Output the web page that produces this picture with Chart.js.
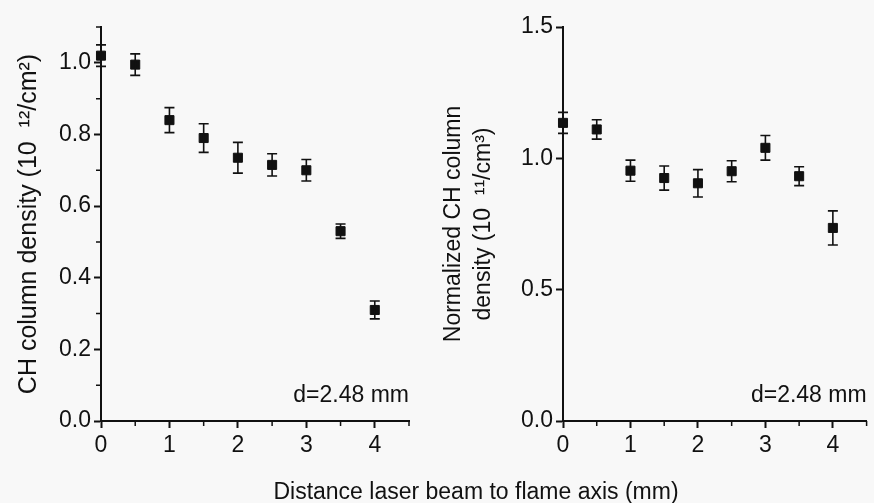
<!DOCTYPE html>
<html>
<head>
<meta charset="utf-8">
<script src="https://cdn.jsdelivr.net/npm/chart.js@4.4.1/dist/chart.umd.min.js"></script>
<style>
html,body{margin:0;padding:0;background:#f8f8f8;}
#wrap{position:relative;width:874px;height:503px;overflow:hidden;}
.box{position:absolute;top:0;width:437px;height:503px;}
#xtitle{position:absolute;left:0;width:952px;top:478px;text-align:center;
font-family:"Liberation Sans",Arial,sans-serif;font-size:23px;color:#111;white-space:nowrap;}
</style>
</head>
<body>
<div id="wrap">
<div class="box" style="left:0"><canvas id="left" width="437" height="503"></canvas></div>
<div class="box" style="left:437px"><canvas id="right" width="437" height="503"></canvas></div>
<div id="xtitle">Distance laser beam to flame axis (mm)</div>
</div>
<script>
// distance from flame axis (mm)
const distances=[0,0.5,1,1.5,2,2.5,3,3.5,4]

// CH column density, 10^12 /cm^2
const chDensity=[1.02,0.995,0.84,0.79,0.735,0.715,0.70,0.53,0.31]
const chDensityErr=[0.03,0.03,0.035,0.04,0.043,0.031,0.03,0.02,0.025]

// normalized CH column density, 10^11 /cm^3
const normDensity=[1.135,1.11,0.953,0.925,0.905,0.951,1.04,0.932,0.735]
const normDensityErr=[0.04,0.037,0.04,0.046,0.052,0.04,0.047,0.036,0.065]

const xMinor=[0.5,1.5,2.5,3.5,4.5]
const leftMinor=[0.1,0.3,0.5,0.7,0.9,1.1]
const noteText="d=2.48 mm"

const FONT="'Liberation Sans', Arial, sans-serif"
const INK="#111"

function points(xs,ys){
return xs.map((x,i)=>({x:x,y:ys[i]}))
}

// vertical error bars with caps
const errorBars={
id:"errorBars",
afterDatasetsDraw(chart){
const ctx=chart.ctx
const xs=chart.scales.x
const ys=chart.scales.y
chart.data.datasets.forEach(ds=>{
if(!ds.errors)return
ctx.save()
ctx.strokeStyle=INK
ctx.lineWidth=1.6
ds.data.forEach((p,i)=>{
const e=ds.errors[i]
const px=xs.getPixelForValue(p.x)
const top=ys.getPixelForValue(p.y+e)
const bot=ys.getPixelForValue(p.y-e)
ctx.beginPath()
ctx.moveTo(px,top);ctx.lineTo(px,bot)
ctx.moveTo(px-5,top);ctx.lineTo(px+5,top)
ctx.moveTo(px-5,bot);ctx.lineTo(px+5,bot)
ctx.stroke()
})
ctx.restore()
})
}
}

// short minor ticks and the corner note
const extras={
id:"extras",
afterDraw(chart,args,opts){
const ctx=chart.ctx
const xs=chart.scales.x
const ys=chart.scales.y
const area=chart.chartArea
ctx.save()
ctx.strokeStyle=INK
ctx.lineWidth=1.5
ctx.beginPath()
;(opts.xMinor||[]).forEach(v=>{
const px=xs.getPixelForValue(v)
ctx.moveTo(px,area.bottom);ctx.lineTo(px,area.bottom+5)
})
;(opts.yMinor||[]).forEach(v=>{
const py=ys.getPixelForValue(v)
ctx.moveTo(area.left,py);ctx.lineTo(area.left-5,py)
})
ctx.stroke()
if(opts.note){
ctx.fillStyle=INK
ctx.font="23px "+FONT
ctx.textAlign="right"
ctx.textBaseline="alphabetic"
ctx.fillText(opts.note,area.right,area.bottom-19)
}
ctx.restore()
}
}

function makeChart(id,values,errs,yMax,yStep,yMinor,yTitle,titleSize,yWidth,padRight,titlePad){
return new Chart(document.getElementById(id),{
type:"scatter",
data:{datasets:[{
data:points(distances,values),
errors:errs,
pointStyle:"rect",
pointRadius:6.4,
pointHoverRadius:6.4,
backgroundColor:INK,
borderColor:INK,
borderWidth:1,
clip:false
}]},
options:{
responsive:false,
animation:false,
layout:{padding:{top:27,right:padRight,bottom:0,left:0}},
plugins:{
legend:{display:false},
tooltip:{enabled:false},
extras:{xMinor:xMinor,yMinor:yMinor,note:noteText}
},
scales:{
x:{
type:"linear",min:0,max:4.5,
afterFit(s){s.height=82},
border:{color:INK,width:2},
grid:{drawOnChartArea:false,drawTicks:true,tickLength:7,tickColor:INK,tickWidth:2},
ticks:{stepSize:1,includeBounds:false,color:INK,padding:4,font:{family:FONT,size:23},maxRotation:0}
},
y:{
type:"linear",min:0,max:yMax,
afterFit(s){s.width=yWidth},
border:{color:INK,width:2},
grid:{drawOnChartArea:false,drawTicks:true,tickLength:7,tickColor:INK,tickWidth:2},
ticks:{stepSize:yStep,includeBounds:false,color:INK,padding:3,
font:{family:FONT,size:23},callback:v=>v.toFixed(1)},
title:{display:true,text:yTitle,color:INK,padding:titlePad,
font:{family:FONT,size:titleSize,lineHeight:1.3}}
}
}
},
plugins:[errorBars,extras]
})
}

makeChart("left",chDensity,chDensityErr,1.1,0.2,leftMinor,
"CH column density (10  \u00b9\u00b2/cm\u00b2)",25,101,28,{top:13,bottom:0})

makeChart("right",normDensity,normDensityErr,1.5,0.5,[],
["Normalized CH column","density (10  \u00b9\u00b9/cm\u00b3)"],23,126,6,{top:2,bottom:0})
</script>
</body>
</html>
